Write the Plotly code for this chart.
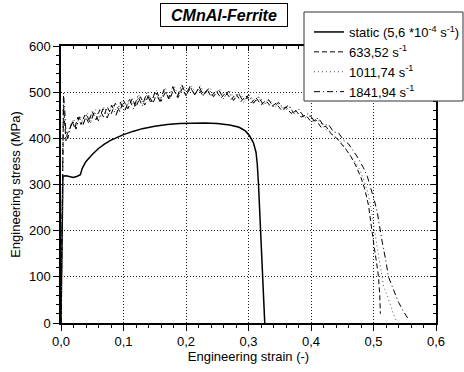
import plotly.graph_objects as go

# ---- data ----
static_strain = [0.0, 0.001, 0.002, 0.003, 0.008, 0.014, 0.02, 0.026, 0.031, 0.034, 0.04, 0.05, 0.06,
                 0.07, 0.08, 0.09, 0.1, 0.115, 0.13, 0.15, 0.17, 0.19, 0.21, 0.23, 0.25, 0.27,
                 0.285, 0.295, 0.302, 0.308, 0.312, 0.314, 0.316, 0.318, 0.32, 0.322, 0.324, 0.326]
static_stress = [0, 110, 230, 318, 319, 317, 315, 318, 321, 335, 350, 365, 378,
                 388, 396, 402, 408, 415, 421, 426, 430, 432, 433, 433, 432, 429,
                 424, 416, 405, 390, 370, 345, 300, 240, 170, 110, 50, 0]

d633_strain = [0.0, 0.002, 0.004, 0.006, 0.008, 0.010, 0.014, 0.018, 0.022, 0.027, 0.032, 0.038,
               0.044, 0.05, 0.056, 0.062, 0.068, 0.074, 0.08, 0.087, 0.094, 0.1, 0.107, 0.114,
               0.12, 0.127, 0.134, 0.14, 0.147, 0.154, 0.16, 0.167, 0.174, 0.18, 0.187, 0.194,
               0.2, 0.207, 0.214, 0.22, 0.227, 0.234, 0.24, 0.248, 0.256, 0.264, 0.272, 0.28,
               0.288, 0.296, 0.304, 0.312, 0.32, 0.328, 0.336, 0.344, 0.352, 0.36, 0.368, 0.376,
               0.384, 0.392, 0.4, 0.408, 0.416, 0.424, 0.432, 0.44, 0.448, 0.456, 0.464, 0.472,
               0.48, 0.486, 0.492, 0.497, 0.501, 0.505, 0.508, 0.51, 0.511]
d633_stress = [0, 250, 470, 430, 395, 410, 420, 436, 422, 446, 430, 450,
               434, 458, 440, 462, 446, 468, 452, 476, 458, 482, 464, 486,
               468, 490, 472, 494, 476, 498, 480, 500, 484, 506, 488, 508,
               492, 510, 494, 508, 492, 506, 490, 503, 487, 500, 484, 496,
               480, 492, 477, 488, 473, 482, 468, 476, 462, 468, 454, 460,
               446, 450, 436, 440, 424, 426, 410, 402, 390, 376, 360, 340,
               315, 290, 255, 200, 165, 130, 100, 60, 20]

d1011_strain = [0.0, 0.002, 0.004, 0.006, 0.009, 0.012, 0.016, 0.02, 0.025, 0.03, 0.036, 0.042,
                0.048, 0.055, 0.062, 0.069, 0.076, 0.083, 0.09, 0.097, 0.104, 0.111, 0.118, 0.125,
                0.132, 0.139, 0.146, 0.153, 0.16, 0.167, 0.174, 0.181, 0.188, 0.195, 0.202, 0.209,
                0.216, 0.223, 0.23, 0.238, 0.246, 0.254, 0.262, 0.27, 0.278, 0.286, 0.294, 0.302,
                0.31, 0.318, 0.326, 0.334, 0.342, 0.35, 0.358, 0.366, 0.374, 0.382, 0.39, 0.398,
                0.406, 0.414, 0.422, 0.43, 0.438, 0.446, 0.454, 0.462, 0.47, 0.478, 0.485, 0.491,
                0.496, 0.5, 0.504, 0.508, 0.512, 0.516, 0.522, 0.528, 0.533, 0.537]
d1011_stress = [0, 240, 480, 440, 405, 418, 432, 442, 426, 450, 432, 456,
                438, 462, 444, 468, 450, 474, 456, 480, 462, 488, 468, 494,
                474, 500, 478, 504, 482, 508, 488, 514, 492, 516, 496, 512,
                498, 514, 496, 510, 494, 507, 490, 502, 486, 498, 482, 494,
                478, 490, 473, 484, 467, 476, 460, 468, 452, 458, 444, 448,
                436, 438, 420, 416, 402, 396, 380, 366, 350, 332, 308, 282,
                250, 215, 180, 145, 115, 80, 60, 35, 15, 3]

d1841_strain = [0.0, 0.002, 0.004, 0.006, 0.008, 0.011, 0.015, 0.019, 0.024, 0.029, 0.035, 0.041,
                0.047, 0.053, 0.06, 0.067, 0.074, 0.081, 0.088, 0.095, 0.102, 0.109, 0.116, 0.123,
                0.13, 0.137, 0.144, 0.151, 0.158, 0.165, 0.172, 0.179, 0.186, 0.193, 0.2, 0.207,
                0.214, 0.221, 0.228, 0.236, 0.244, 0.252, 0.26, 0.268, 0.276, 0.284, 0.292, 0.3,
                0.308, 0.316, 0.324, 0.332, 0.34, 0.348, 0.356, 0.364, 0.372, 0.38, 0.388, 0.396,
                0.404, 0.412, 0.42, 0.428, 0.436, 0.444, 0.452, 0.46, 0.468, 0.476, 0.484, 0.49,
                0.494, 0.498, 0.502, 0.506, 0.51, 0.514, 0.519, 0.524, 0.532, 0.54, 0.548, 0.556]
d1841_stress = [0, 280, 498, 460, 410, 400, 424, 438, 420, 446, 428, 452,
                432, 458, 438, 464, 444, 472, 450, 478, 458, 486, 464, 492,
                470, 498, 476, 502, 480, 506, 486, 512, 490, 516, 496, 514,
                494, 512, 492, 508, 490, 506, 486, 502, 482, 498, 478, 494,
                476, 490, 472, 484, 468, 478, 462, 472, 456, 464, 448, 454,
                440, 444, 428, 430, 414, 412, 396, 388, 372, 356, 336, 318,
                300, 282, 262, 240, 205, 175, 140, 100, 72, 45, 25, 8]

x_tickvals = [0.0, 0.1, 0.2, 0.3, 0.4, 0.5, 0.6]
x_ticktext = ["0,0", "0,1", "0,2", "0,3", "0,4", "0,5", "0,6"]
y_tickvals = [0, 100, 200, 300, 400, 500, 600]
y_ticktext = ["0", "100", "200", "300", "400", "500", "600"]

names = ["static (5,6 *10<sup>-4</sup> s<sup>-1</sup>)", "633,52 s<sup>-1</sup>",
         "1011,74 s<sup>-1</sup>", "1841,94 s<sup>-1</sup>"]

FONT = "Liberation Sans, Arial, sans-serif"

# layout helpers: plot area in pixels
L, R, T, B, W, H = 61, 28, 46, 49, 464, 372
PW, PH = W - L - R, H - T - B


def px_x(p):
    return (p - L) / PW


def px_y(p):
    return (H - B - p) / PH


fig = go.Figure()
fig.add_trace(go.Scatter(x=static_strain, y=static_stress, mode="lines", name=names[0],
                         legendgroup="a", line=dict(color="black", width=1.5)))
fig.add_trace(go.Scatter(x=d633_strain, y=d633_stress, mode="lines", name=names[1],
                         legendgroup="b", line=dict(color="black", width=1, dash="5px,3px")))
fig.add_trace(go.Scatter(x=d1011_strain, y=d1011_stress, mode="lines", name=names[2],
                         legendgroup="c", line=dict(color="#555555", width=1, dash="1px,3px")))
fig.add_trace(go.Scatter(x=d1841_strain, y=d1841_stress, mode="lines", name=names[3],
                         legendgroup="d", line=dict(color="black", width=1, dash="6px,3px,1px,3px")))
# empty trace to activate the mirrored (top/right) axes
fig.add_trace(go.Scatter(x=[], y=[], xaxis="x2", yaxis="y2", showlegend=False, hoverinfo="skip"))

common = dict(showline=True, linecolor="black", linewidth=1.5, zeroline=False)

fig.update_layout(
    width=W, height=H,
    margin=dict(l=L, r=R, t=T, b=B, autoexpand=False),
    paper_bgcolor="white", plot_bgcolor="white",
    font=dict(family=FONT, size=13, color="black"),
    xaxis=dict(range=[0, 0.6], tickvals=x_tickvals, ticktext=x_ticktext,
               ticks="outside", ticklen=6, tickwidth=1, tickcolor="black",
               minor=dict(dtick=0.02, ticks="outside", ticklen=3, tickcolor="black", showgrid=False),
               showgrid=True, gridcolor="#222222", griddash="1px,2px", gridwidth=1,
               title=dict(text="Engineering strain (-)", font=dict(size=13), standoff=3),
               tickfont=dict(size=13), **common),
    yaxis=dict(range=[0, 600], tickvals=y_tickvals, ticktext=y_ticktext,
               ticks="outside", ticklen=6, tickwidth=1, tickcolor="black",
               minor=dict(dtick=20, ticks="outside", ticklen=3, tickcolor="black", showgrid=False),
               showgrid=True, gridcolor="#222222", griddash="1px,2px", gridwidth=1,
               title=dict(text="Engineering stress (MPa)", font=dict(size=13), standoff=5),
               tickfont=dict(size=13), **common),
    xaxis2=dict(range=[0, 0.6], overlaying="x", side="top", showticklabels=False,
                tickvals=x_tickvals, ticks="inside", ticklen=5, tickcolor="black",
                minor=dict(dtick=0.02, ticks="inside", ticklen=3, tickcolor="black"),
                showgrid=False, **common),
    yaxis2=dict(range=[0, 600], overlaying="y", side="right", showticklabels=False,
                tickvals=y_tickvals, ticks="inside", ticklen=5, tickcolor="black",
                minor=dict(dtick=20, ticks="inside", ticklen=3, tickcolor="black"),
                showgrid=False, **common),
    legend=dict(x=px_x(309), y=px_y(17), xanchor="left", yanchor="top",
                bgcolor="rgba(0,0,0,0)", borderwidth=0,
                font=dict(size=13, family=FONT), tracegroupgap=0),
    showlegend=True,
)

# legend frame (white box that hides curves beneath it)
fig.add_shape(type="rect", xref="paper", yref="paper",
              x0=px_x(304), x1=px_x(463), y0=px_y(101), y1=px_y(12),
              line=dict(color="#333333", width=1), fillcolor="white", layer="above")

fig.add_annotation(text="<b><i>CMnAl-Ferrite</i></b>", xref="paper", yref="paper",
                   x=px_x(224), y=px_y(15), xanchor="center", yanchor="middle",
                   showarrow=False, font=dict(size=16, family=FONT),
                   bordercolor="black", borderwidth=1, borderpad=1, width=124, height=20,
                   bgcolor="white")

fig.write_html("out.html")
